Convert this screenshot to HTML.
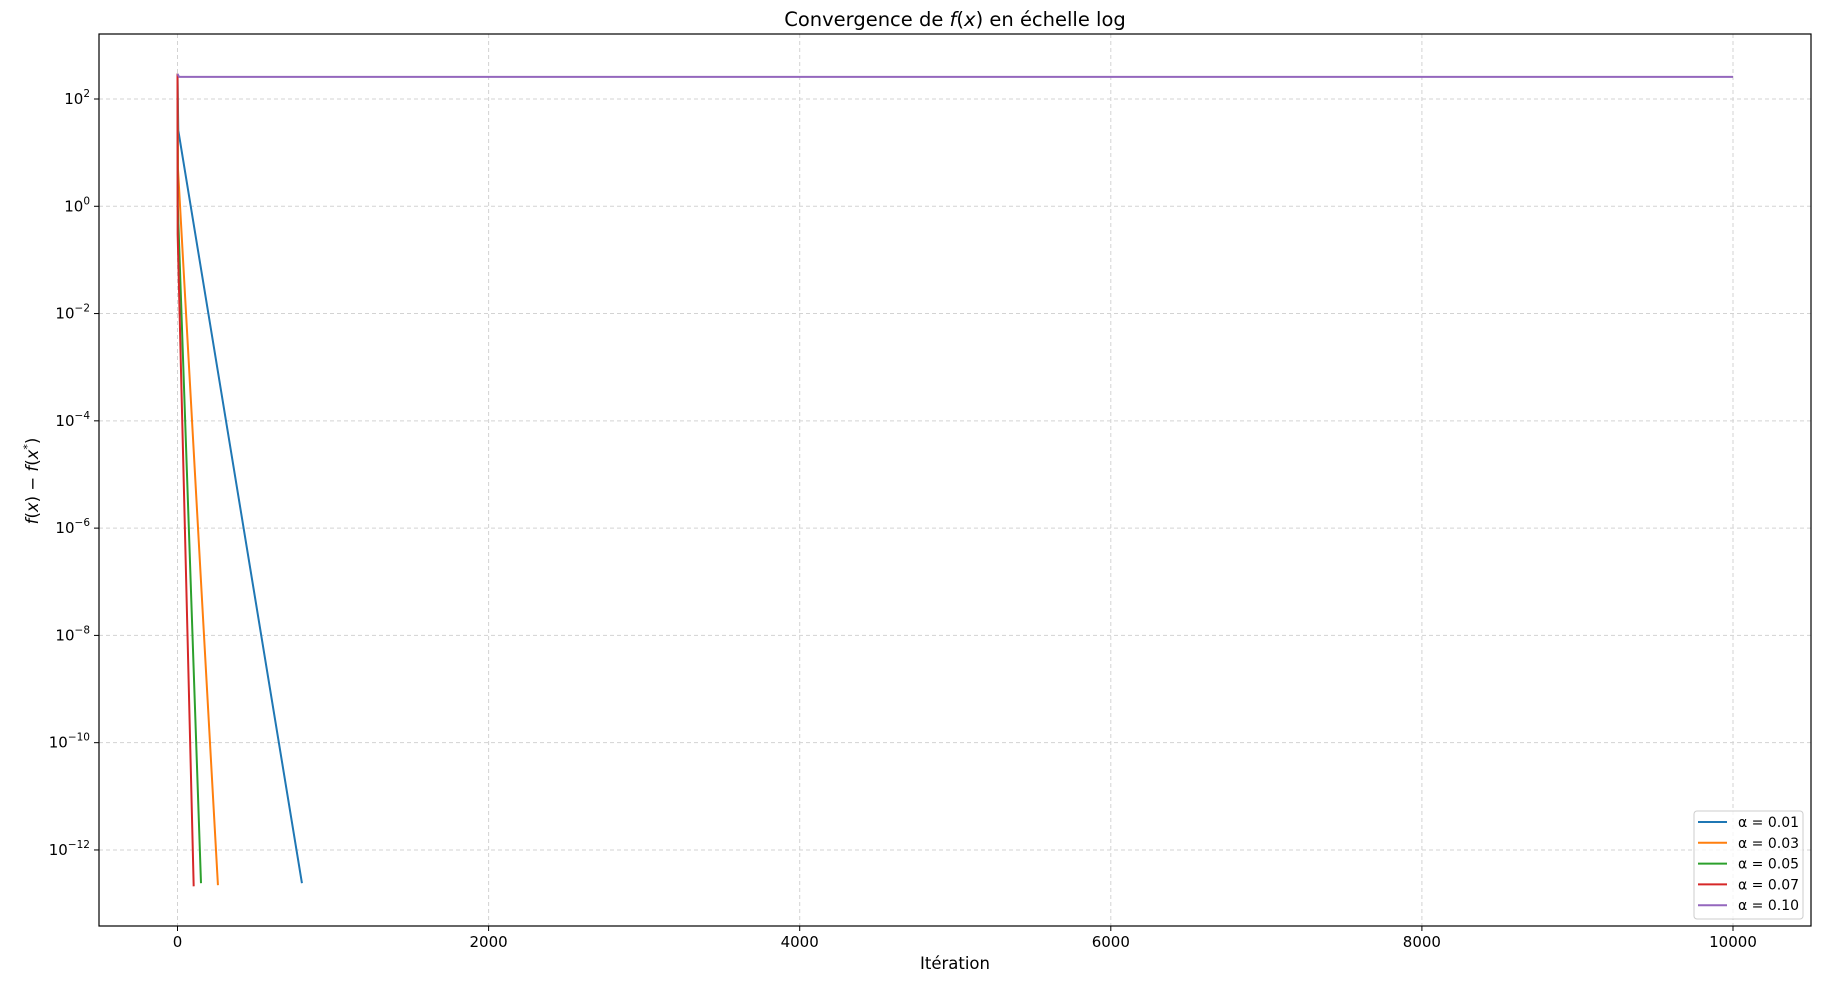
<!DOCTYPE html>
<html><head><meta charset="utf-8"><style>
body{margin:0;background:#fff}
svg{display:block;font-family:"DejaVu Sans","Liberation Sans",sans-serif}
</style></head><body>
<svg id="chart" width="1826" height="993" viewBox="0 0 1826 993" xmlns="http://www.w3.org/2000/svg"></svg>
<script>
const xTicks=[0,2000,4000,6000,8000,10000];
const yTickExps=[2,0,-2,-4,-6,-8,-10,-12];
const labels=["α = 0.01","α = 0.03","α = 0.05","α = 0.07","α = 0.10"];
const colors=["#1f77b4","#ff7f0e","#2ca02c","#d62728","#9467bd"];
const iters001=[0,5,800];const vals001=[295,26,2.4e-13];
const iters003=[0,3,260];const vals003=[295,5,2.2e-13];
const iters005=[0,2,151];const vals005=[295,1,2.4e-13];
const iters007=[0,1,104];const vals007=[295,0.3,2.1e-13];
const iters010=[0,10,10000];const vals010=[295,258,258];
const seriesIters=[iters001,iters003,iters005,iters007,iters010];
const seriesVals=[vals001,vals003,vals005,vals007,vals010];

const L=99,T=34,R=1811,B=926;
const NS="http://www.w3.org/2000/svg";
const svg=document.getElementById('chart');
function xs(v){return 177.5+v*(1733-177.5)/10000;}
function ys(v){return 99-(Math.log10(v)-2)*53.64;}
function mk(tag,at,parent){const e=document.createElementNS(NS,tag);for(const k in at)e.setAttribute(k,at[k]);(parent||svg).appendChild(e);return e;}

xTicks.forEach(t=>{const x=xs(t);
 const g=mk('line',{x1:x,x2:x,y1:T,y2:B,stroke:'#d3d3d3','stroke-width':1,'stroke-dasharray':'4,3'});
 
 const tk=mk('line',{x1:x,x2:x,y1:B,y2:B+5,stroke:'#000','stroke-width':1});
 
 const tx=mk('text',{x:x,y:B+21,'font-size':15,'text-anchor':'middle',fill:'#000'});tx.textContent=t;
 
});
yTickExps.forEach(e=>{const y=ys(Math.pow(10,e));
 const g=mk('line',{x1:L,x2:R,y1:y,y2:y,stroke:'#d3d3d3','stroke-width':1,'stroke-dasharray':'4,3'});
 
 const tk=mk('line',{x1:L-5,x2:L,y1:y,y2:y,stroke:'#000','stroke-width':1});
 
 const tx=mk('text',{x:L-9,y:y+5,'font-size':15,'text-anchor':'end',fill:'#000'});
 
 const a=mk('tspan',{},tx);a.textContent='10';
 const b=mk('tspan',{dy:-7,'font-size':10.5},tx);b.textContent=(e<0?'\u2212'+(-e):''+e);
});
seriesIters.forEach((its,i)=>{
 const pts=its.map((v,j)=>xs(v).toFixed(2)+','+ys(seriesVals[i][j]).toFixed(2)).join(' ');
 const p=mk('polyline',{points:pts,fill:'none',stroke:colors[i],'stroke-width':2});
 
});
const fr=mk('rect',{x:L,y:T,width:R-L,height:B-T,fill:'none',stroke:'#000','stroke-width':1.2});

const ti=mk('text',{x:955,y:26,'font-size':19.5,'text-anchor':'middle',fill:'#000'});

ti.innerHTML='Convergence de <tspan font-style="italic">f</tspan>(<tspan font-style="italic">x</tspan>) en échelle log';
const xl=mk('text',{x:955,y:969,'font-size':16.5,'text-anchor':'middle',fill:'#000'});

xl.textContent='Itération';
const yl=mk('text',{x:0,y:0,'font-size':16.5,'text-anchor':'middle',fill:'#000',transform:'translate(38,481) rotate(-90)'});

yl.innerHTML='<tspan font-style="italic">f</tspan>(<tspan font-style="italic">x</tspan>) \u2212 <tspan font-style="italic">f</tspan>(<tspan font-style="italic">x</tspan><tspan dy="-7" font-size="11">*</tspan><tspan dy="7">)</tspan>';
const lg=mk('rect',{x:1694,y:811,width:109,height:108,rx:3,fill:'#fff','fill-opacity':0.8,stroke:'#ccc','stroke-width':1});

labels.forEach((lab,i)=>{const y=822+i*20.8;
 const ln=mk('line',{x1:1698,x2:1727,y1:y,y2:y,stroke:colors[i],'stroke-width':2});
 
 const tx=mk('text',{x:1738,y:y+5,'font-size':14,fill:'#000'});tx.textContent=lab;
 
});
</script>
</body></html>
